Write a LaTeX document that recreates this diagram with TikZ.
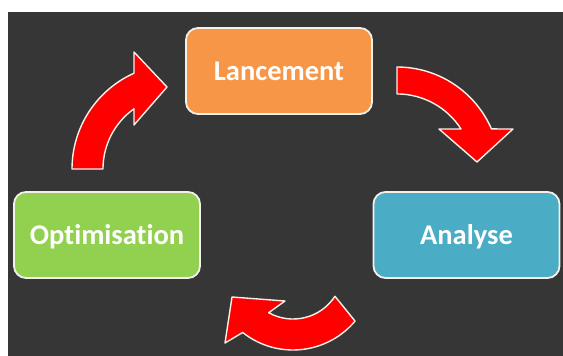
\documentclass[tikz,border=0pt]{standalone}
\usepackage{fontspec}
\setmainfont{Carlito}[Ligatures=NoCommon]
\usetikzlibrary{positioning}

\definecolor{backdrop}{HTML}{363636}
\definecolor{boxorange}{HTML}{F79646}
\definecolor{boxblue}{HTML}{4BACC6}
\definecolor{boxgreen}{HTML}{92D050}
\definecolor{rim}{HTML}{F4F0EA}

\tikzset{
  stage/.style={draw=rim, line width=1.8pt, rounded corners=12pt,
    minimum width=186pt, minimum height=86pt, inner sep=0pt,
    text height=18.5pt, text depth=0pt, text=white,
    font=\fontsize{28.5}{30}\selectfont\bfseries},
  bigarrow/.style={fill=red, draw=rim, line width=1.4pt, line join=round}
}

\begin{document}
\begin{tikzpicture}[x=1pt,y=-1pt]
  % frame and dark backdrop
  \useasboundingbox (0,0) rectangle (563,356);
  \fill[backdrop] (8,12) rectangle (563,356);

  % Place nodes
  \node [stage, fill=boxorange] (lance) at (279,71) {Lancement};
  \node [stage, fill=boxblue] (analyse) at (466.5,235) {Analyse};
  \node [stage, fill=boxgreen] (optim) at (107,235) {Optimisation};

  % arc centres of the curved arrows
  \coordinate (c1) at (397,170);
  \coordinate (c2) at (293,269);
  \coordinate (c3) at (177,169);

  % Lancement -> Analyse
  \draw [bigarrow] (c1) ++(270:103) arc [start angle=270, end angle=336.5, radius=103]
    -- (513,129) -- (477,162) -- (439,129) -- (461,129)
    arc [start angle=327.4, end angle=270, radius=76] -- cycle;

  % Analyse -> Optimisation
  \draw [bigarrow] (c2) ++(40:81) arc [start angle=40, end angle=128.4, radius=81]
    -- (225,343) -- (232,297) -- (285,301) -- (268.7,312.7)
    arc [start angle=119.1, end angle=33, radius=50] -- cycle;

  % Optimisation -> Lancement
  \draw [bigarrow] (c3) ++(180:105) arc [start angle=180, end angle=245.8, radius=105]
    -- (134,52) -- (167,87) -- (134,125) -- (134,108.8)
    arc [start angle=234.5, end angle=180, radius=74] -- cycle;
\end{tikzpicture}
\end{document}
